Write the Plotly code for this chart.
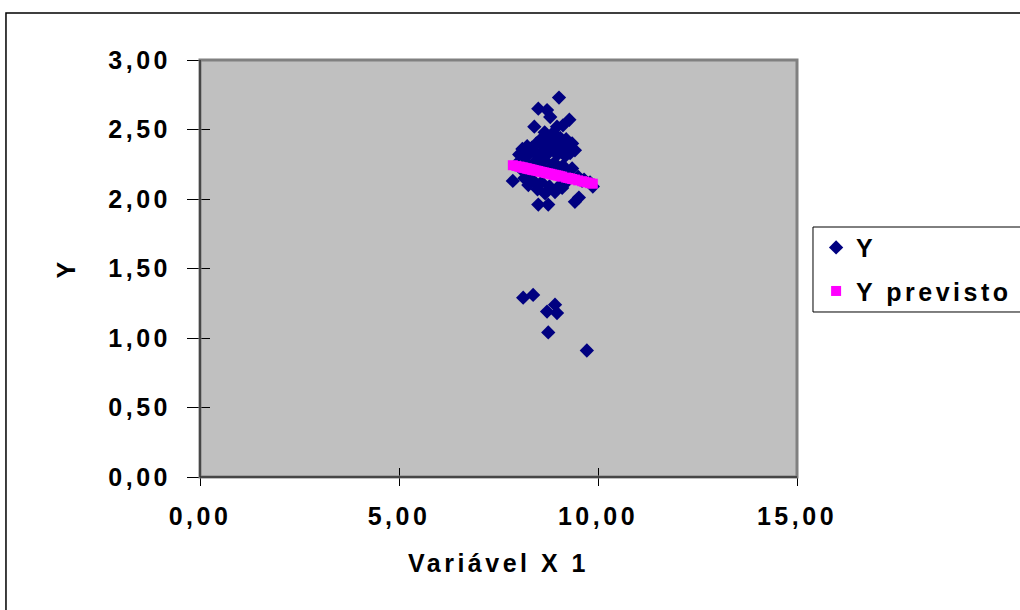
import plotly.graph_objects as go

# Observed data (Variável X 1, Y)
x_obs = [9.02, 8.50, 8.72, 8.80, 9.28, 8.40, 8.97, 9.12, 8.66, 8.85, 8.95, 9.05, 8.60, 9.20,
         8.10, 8.22, 8.34, 8.45, 8.55, 8.70, 8.80, 8.90, 9.00, 9.10, 9.25, 9.35,
         8.02, 8.15, 8.28, 8.40, 8.50, 8.62, 8.75, 8.88, 8.98, 9.08, 9.18, 9.30, 9.42,
         7.95, 8.05, 8.20, 8.30, 8.42, 8.55, 8.65, 8.78, 8.90, 9.00, 9.12, 9.22, 9.35, 9.50, 9.65, 9.80,
         7.86, 8.15, 8.25, 8.38, 8.48, 8.58, 8.67, 8.78, 8.92, 9.05, 9.10, 9.20, 9.87, 9.60,
         8.50, 8.75, 9.42, 9.52,
         8.12, 8.37, 8.72, 8.92, 8.97, 8.75, 9.72]
y_obs = [2.73, 2.65, 2.64, 2.59, 2.57, 2.52, 2.52, 2.53, 2.48, 2.47, 2.45, 2.44, 2.44, 2.43,
         2.36, 2.38, 2.37, 2.40, 2.41, 2.39, 2.42, 2.40, 2.38, 2.40, 2.38, 2.40,
         2.32, 2.30, 2.33, 2.34, 2.31, 2.35, 2.33, 2.35, 2.32, 2.34, 2.31, 2.33, 2.35,
         2.25, 2.22, 2.26, 2.20, 2.27, 2.23, 2.28, 2.22, 2.26, 2.20, 2.24, 2.18, 2.22, 2.16, 2.14, 2.12,
         2.13, 2.15, 2.10, 2.13, 2.07, 2.12, 2.04, 2.09, 2.05, 2.10, 2.08, 2.12, 2.09, 2.13,
         1.96, 1.96, 1.98, 2.01,
         1.29, 1.31, 1.19, 1.24, 1.18, 1.04, 0.91]

# Predicted values (Y previsto)
x_pred = [7.86, 7.95, 8.02, 8.05, 8.10, 8.12, 8.15, 8.20, 8.22, 8.25, 8.28, 8.30, 8.34, 8.37,
          8.40, 8.45, 8.50, 8.55, 8.60, 8.65, 8.70, 8.75, 8.80, 8.85, 8.90, 8.95, 9.00, 9.05,
          9.10, 9.20, 9.25, 9.30, 9.35, 9.42, 9.50, 9.60, 9.65, 9.72, 9.80, 9.87]
y_pred = [2.243, 2.237, 2.233, 2.231, 2.227, 2.226, 2.224, 2.221, 2.219, 2.217, 2.215, 2.214,
          2.211, 2.209, 2.207, 2.204, 2.201, 2.197, 2.194, 2.191, 2.187, 2.184, 2.181, 2.177,
          2.174, 2.171, 2.168, 2.164, 2.161, 2.154, 2.151, 2.148, 2.144, 2.140, 2.134, 2.128,
          2.124, 2.120, 2.114, 2.110]

x_tickvals = [0, 5, 10, 15]
x_ticktext = ["0,00", "5,00", "10,00", "15,00"]
y_tickvals = [0, 0.5, 1.0, 1.5, 2.0, 2.5, 3.0]
y_ticktext = ["0,00", "0,50", "1,00", "1,50", "2,00", "2,50", "3,00"]

FONT = "Liberation Sans, Arial, sans-serif"
FS = 25

fig = go.Figure()
fig.add_trace(go.Scatter(x=x_obs, y=y_obs, mode="markers", name="Y", legendgroup="a",
                         marker=dict(symbol="diamond", size=11, color="#000080",
                                     line=dict(width=0))))
fig.add_trace(go.Scatter(x=x_pred, y=y_pred, mode="markers", name="Y previsto", legendgroup="b",
                         marker=dict(symbol="square", size=10, color="#FF00FF",
                                     line=dict(width=0))))

axis_font = dict(family=FONT, size=FS, color="black", weight="bold")

fig.update_layout(
    width=1020, height=610, autosize=False,
    margin=dict(l=200, r=223, t=60, b=133),
    paper_bgcolor="white", plot_bgcolor="#C0C0C0",
    font=dict(family=FONT, color="black"),
    showlegend=True,
    legend=dict(x=1.032, y=0.605, xanchor="left", yanchor="top",
                bgcolor="rgba(0,0,0,0)", borderwidth=0,
                font=dict(family=FONT, size=FS, color="black", weight="bold"),
                traceorder="grouped", tracegroupgap=8),
    xaxis=dict(range=[0, 15], tickvals=x_tickvals, ticktext=x_ticktext,
               ticks="outside", ticklen=8, tickwidth=1, tickcolor="black",
               showgrid=False, zeroline=False, showline=False,
               tickfont=axis_font, ticklabelstandoff=9,
               title=dict(text="Variável X 1", font=axis_font, standoff=25)),
    yaxis=dict(range=[0, 3], tickvals=y_tickvals, ticktext=y_ticktext,
               ticks="outside", ticklen=12, tickwidth=1, tickcolor="black",
               showgrid=False, zeroline=False, showline=False,
               tickfont=axis_font, ticklabelstandoff=11,
               title=dict(text="Y", font=axis_font, standoff=39)),
    xaxis2=dict(range=[0, 15], tickvals=x_tickvals, ticks="inside", ticklen=9,
                tickwidth=1, tickcolor="black", showticklabels=False,
                showgrid=False, zeroline=False, showline=False,
                overlaying="x", side="bottom"),
    yaxis2=dict(range=[0, 3], tickvals=y_tickvals, ticks="inside", ticklen=10,
                tickwidth=1, tickcolor="black", showticklabels=False,
                showgrid=False, zeroline=False, showline=False,
                overlaying="y", side="left"),
)

# invisible trace to activate secondary axes
fig.add_trace(go.Scatter(x=[None], y=[None], xaxis="x2", yaxis="y2",
                         showlegend=False, hoverinfo="skip"))

shapes = [
    # outer chart frame
    dict(type="rect", xref="paper", yref="paper", x0=-0.325, x1=1.45, y0=-0.36, y1=1.1127,
         line=dict(color="black", width=1.5), layer="below"),
    # plot area border
    dict(type="rect", xref="paper", yref="paper", x0=0, x1=1, y0=0, y1=1,
         line=dict(color="#808080", width=3), layer="above"),
    # axis lines
    dict(type="line", xref="paper", yref="paper", x0=0, x1=0, y0=0, y1=1,
         line=dict(color="#333333", width=1.5), layer="above"),
    dict(type="line", xref="paper", yref="paper", x0=0, x1=1, y0=0, y1=0,
         line=dict(color="#333333", width=1.5), layer="above"),
    # legend frame
    dict(type="rect", xref="paper", yref="paper", x0=1.0268, x1=1.45, y0=0.3957, y1=0.5995,
         line=dict(color="black", width=1), layer="above"),
]
fig.update_layout(shapes=shapes)

post = """
document.body.style.margin = '0';
document.body.style.padding = '0';
var gd = document.getElementById('{plot_id}');
function sp(){
  gd.querySelectorAll('text').forEach(function(t){ t.style.letterSpacing='3.5px'; });
  gd.querySelectorAll('.legend, .legend [clip-path]').forEach(function(e){ e.removeAttribute('clip-path'); });
}
sp();
if (gd.on) { gd.on('plotly_afterplot', sp); }
"""

fig.write_html("out.html", post_script=post, config={"displayModeBar": False})
